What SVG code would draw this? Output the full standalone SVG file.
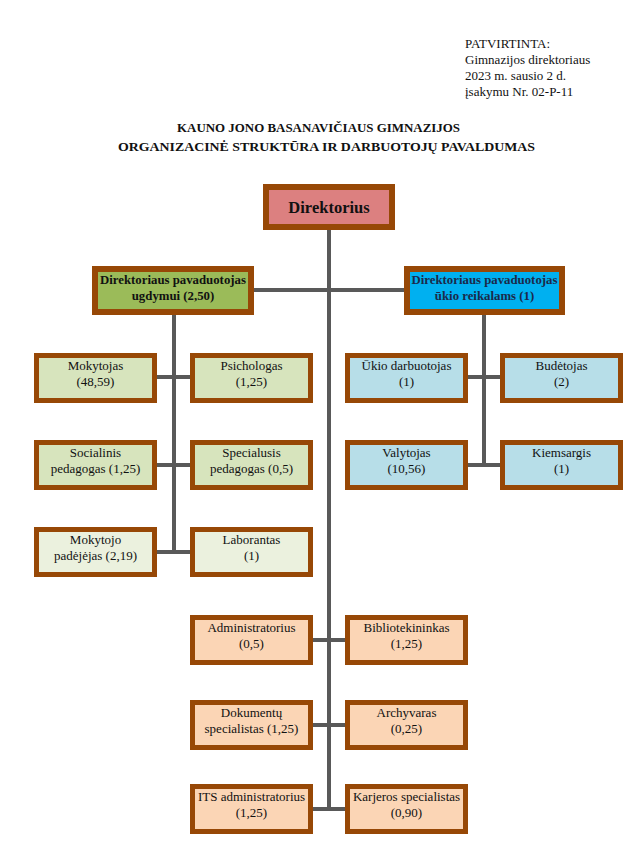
<svg xmlns="http://www.w3.org/2000/svg" width="633" height="865" viewBox="0 0 633 865">
<style>
text{font-family:"Liberation Serif","Times New Roman",serif;fill:#111;}
.hd{font-size:13px;}
.tt{font-size:12.5px;font-weight:bold;}
.bx{stroke:#974806;stroke-width:5;}
.dp{stroke:#974806;stroke-width:6;}
.t{font-size:13px;text-anchor:middle;}
.td{font-size:12.8px;font-weight:bold;text-anchor:middle;}
.ln{stroke:#595959;stroke-width:4;fill:none;}
.g1{fill:#D7E4BD;}
.g2{fill:#EBF1DE;}
.b1{fill:#B7DEE8;}
.p1{fill:#FBD5B5;}
</style>
<rect width="633" height="865" fill="#fff"/>
<g id="header">
<text class="hd" x="465" y="48">PATVIRTINTA:</text>
<text class="hd" x="465" y="64">Gimnazijos direktoriaus</text>
<text class="hd" x="465" y="80">2023 m. sausio 2 d.</text>
<text class="hd" x="465" y="96">įsakymu Nr. 02-P-11</text>
<text class="tt" x="177" y="132" textLength="283" lengthAdjust="spacingAndGlyphs">KAUNO JONO BASANAVIČIAUS GIMNAZIJOS</text>
<text class="tt" x="118" y="151" textLength="417" lengthAdjust="spacingAndGlyphs">ORGANIZACINĖ STRUKTŪRA IR DARBUOTOJŲ PAVALDUMAS</text>
</g>
<g id="connectors">
<path class="ln" d="M329 229V809"/>
<path class="ln" d="M254 290H404"/>
<path class="ln" d="M174 315V552M157 377H190M157 465H190M157 552H190"/>
<path class="ln" d="M484 315V465M468 377H500M468 465H500"/>
<path class="ln" d="M313 640H345M313 725H345M313 809H345"/>
</g>
<g id="director">
<rect class="dp" x="266" y="187" width="126" height="40" fill="#DC8080"/>
<text x="329" y="213" style="font-size:16.5px;font-weight:bold;text-anchor:middle">Direktorius</text>
</g>
<g id="deputy-education">
<rect class="dp" x="95" y="269" width="156" height="43" fill="#9BBB59"/>
<text class="td" x="173" y="284">Direktoriaus pavaduotojas</text>
<text class="td" x="173" y="300">ugdymui (2,50)</text>
</g>
<g id="deputy-maintenance">
<rect class="dp" x="407" y="269" width="155" height="43" fill="#00B0F0"/>
<text class="td" x="484.5" y="284" style="fill:#1b2a4a">Direktoriaus pavaduotojas</text>
<text class="td" x="484.5" y="300" style="fill:#1b2a4a">ūkio reikalams (1)</text>
</g>
<g id="mokytojas">
<rect class="bx g1" x="36.5" y="355.5" width="118" height="45"/>
<text class="t" x="95.5" y="370">Mokytojas</text><text class="t" x="95.5" y="385.5">(48,59)</text>
</g>
<g id="psichologas">
<rect class="bx g1" x="192.5" y="355.5" width="118" height="45"/>
<text class="t" x="251.5" y="370">Psichologas</text><text class="t" x="251.5" y="385.5">(1,25)</text>
</g>
<g id="socialinis">
<rect class="bx g1" x="36.5" y="442.5" width="118" height="45"/>
<text class="t" x="95.5" y="457">Socialinis</text><text class="t" x="95.5" y="472.5">pedagogas (1,25)</text>
</g>
<g id="specialusis">
<rect class="bx g1" x="192.5" y="442.5" width="118" height="45"/>
<text class="t" x="251.5" y="457">Specialusis</text><text class="t" x="251.5" y="472.5">pedagogas (0,5)</text>
</g>
<g id="mokytojo-padejejas">
<rect class="bx g2" x="36.5" y="529.5" width="118" height="45"/>
<text class="t" x="95.5" y="544">Mokytojo</text><text class="t" x="95.5" y="559.5">padėjėjas (2,19)</text>
</g>
<g id="laborantas">
<rect class="bx g2" x="192.5" y="529.5" width="118" height="45"/>
<text class="t" x="251.5" y="544">Laborantas</text><text class="t" x="251.5" y="559.5">(1)</text>
</g>
<g id="ukio-darbuotojas">
<rect class="bx b1" x="347.5" y="355.5" width="118" height="45"/>
<text class="t" x="406.5" y="370">Ūkio darbuotojas</text><text class="t" x="406.5" y="385.5">(1)</text>
</g>
<g id="budetojas">
<rect class="bx b1" x="502.5" y="355.5" width="118" height="45"/>
<text class="t" x="561.5" y="370">Budėtojas</text><text class="t" x="561.5" y="385.5">(2)</text>
</g>
<g id="valytojas">
<rect class="bx b1" x="347.5" y="442.5" width="118" height="45"/>
<text class="t" x="406.5" y="457">Valytojas</text><text class="t" x="406.5" y="472.5">(10,56)</text>
</g>
<g id="kiemsargis">
<rect class="bx b1" x="502.5" y="442.5" width="118" height="45"/>
<text class="t" x="561.5" y="457">Kiemsargis</text><text class="t" x="561.5" y="472.5">(1)</text>
</g>
<g id="administratorius">
<rect class="bx p1" x="192.5" y="617.5" width="118" height="45"/>
<text class="t" x="251.5" y="632">Administratorius</text><text class="t" x="251.5" y="647.5">(0,5)</text>
</g>
<g id="bibliotekininkas">
<rect class="bx p1" x="347.5" y="617.5" width="118" height="45"/>
<text class="t" x="406.5" y="632">Bibliotekininkas</text><text class="t" x="406.5" y="647.5">(1,25)</text>
</g>
<g id="dokumentu-specialistas">
<rect class="bx p1" x="192.5" y="702.5" width="118" height="45"/>
<text class="t" x="251.5" y="717">Dokumentų</text><text class="t" x="251.5" y="732.5">specialistas (1,25)</text>
</g>
<g id="archyvaras">
<rect class="bx p1" x="347.5" y="702.5" width="118" height="45"/>
<text class="t" x="406.5" y="717">Archyvaras</text><text class="t" x="406.5" y="732.5">(0,25)</text>
</g>
<g id="its-administratorius">
<rect class="bx p1" x="192.5" y="786.5" width="118" height="45"/>
<text class="t" x="251.5" y="801">ITS administratorius</text><text class="t" x="251.5" y="816.5">(1,25)</text>
</g>
<g id="karjeros-specialistas">
<rect class="bx p1" x="347.5" y="786.5" width="118" height="45"/>
<text class="t" x="406.5" y="801">Karjeros specialistas</text><text class="t" x="406.5" y="816.5">(0,90)</text>
</g>
</svg>
